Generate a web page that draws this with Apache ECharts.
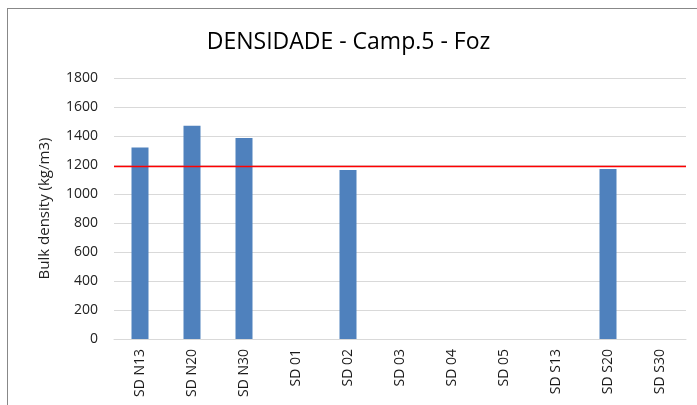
<!DOCTYPE html>
<html>
<head>
<meta charset="utf-8">
<script src="https://cdn.jsdelivr.net/npm/echarts@6/dist/echarts.min.js"></script>
<style>
  html, body { margin: 0; padding: 0; background: #fff; }
  #frame { position: absolute; left: 7px; top: 8px; width: 700px; height: 410px; border: 1px solid #888; box-sizing: border-box; }
  #chart { position: absolute; left: 0; top: 0; width: 697px; height: 405px; }
</style>
</head>
<body>
<div id="frame"></div>
<div id="chart"></div>
<script>
const categories = ["SD N13", "SD N20", "SD N30", "SD 01", "SD 02", "SD 03", "SD 04", "SD 05", "SD S13", "SD S20", "SD S30"];
const density = [1320, 1470, 1387, null, 1166, null, null, null, null, 1172, null];
const referenceLevel = 1190;

const chart = echarts.init(document.getElementById("chart"));

const option = {
  backgroundColor: "transparent",
  animation: false,
  title: {
    text: "DENSIDADE - Camp.5 - Foz",
    left: "center",
    top: 26,
    textStyle: { fontFamily: "Open Sans", fontWeight: "normal", fontSize: 23, color: "#000" }
  },
  grid: { left: 114, right: 11, top: 78, bottom: 66 },
  xAxis: {
    type: "category",
    data: categories,
    axisLine: { lineStyle: { color: "#d9d9d9" } },
    axisTick: { show: false },
    axisLabel: { rotate: 90, color: "#1a1a1a", fontFamily: "Open Sans", fontSize: 14, margin: 10 }
  },
  yAxis: {
    type: "value",
    min: 0,
    max: 1800,
    interval: 200,
    name: "Bulk density (kg/m3)",
    nameLocation: "middle",
    nameGap: 62,
    nameTextStyle: { color: "#222", fontFamily: "Open Sans", fontSize: 15 },
    axisLine: { show: false },
    axisTick: { show: false },
    splitLine: { lineStyle: { color: "#d9d9d9" } },
    axisLabel: { color: "#222", fontFamily: "Open Sans", fontSize: 14, margin: 16, formatter: v => String(v) }
  },
  series: [{
    type: "bar",
    data: density,
    barWidth: 17,
    itemStyle: { color: "#4f81bd" },
    markLine: {
      symbol: "none",
      silent: true,
      label: { show: false },
      lineStyle: { color: "#ff0000", type: "solid", width: 1.3 },
      data: [{ yAxis: referenceLevel }]
    }
  }]
};

chart.setOption(option);
</script>
</body>
</html>
